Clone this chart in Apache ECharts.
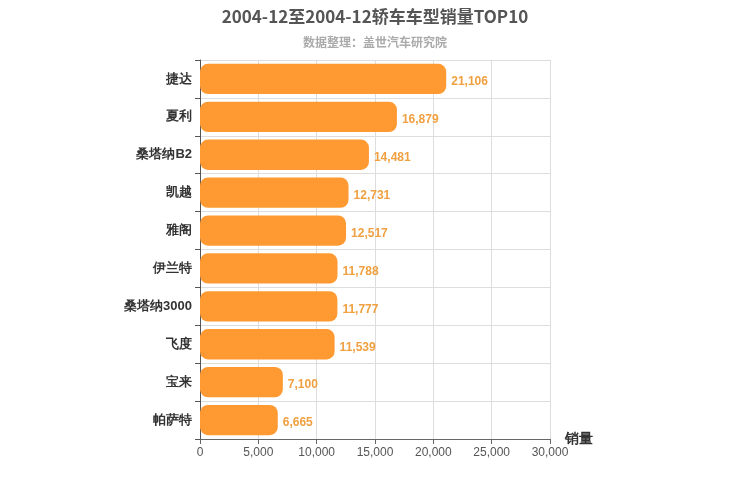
<!DOCTYPE html>
<html><head><meta charset="utf-8">
<script src="https://cdn.jsdelivr.net/npm/echarts@6/dist/echarts.min.js"></script>
<style>html,body{margin:0;padding:0;background:#fff}#c{width:750px;height:500px}</style>
</head><body><div id="c"></div>
<script>
const categories = ['捷达','夏利','桑塔纳B2','凯越','雅阁','伊兰特','桑塔纳3000','飞度','宝来','帕萨特'];
const sales = [21106,16879,14481,12731,12517,11788,11777,11539,7100,6665];
const xTicks = {min:0, max:30000, interval:5000};

const chart = echarts.init(document.getElementById('c'));
chart.setOption({
  backgroundColor:'#fff',
  title:{
    text:'2004-12至2004-12轿车车型销量TOP10',
    subtext:'数据整理：盖世汽车研究院',
    left:'center', top:3, itemGap:11,
    textStyle:{fontSize:17,fontWeight:'bold',color:'#555',fontFamily:'Noto Sans CJK SC'},
    subtextStyle:{fontSize:12,fontWeight:'bold',color:'#aaa',fontFamily:'Noto Sans CJK SC'}
  },
  grid:{left:200,right:200,top:60,bottom:61,containLabel:false},
  xAxis:{
    type:'value', min:xTicks.min, max:xTicks.max, interval:xTicks.interval,
    name:'销量', nameLocation:'end', nameGap:15,
    nameTextStyle:{fontSize:14,fontWeight:'bold',color:'#333',verticalAlign:'middle',lineHeight:16,padding:[0,0,0,0]},
    axisLine:{show:true,lineStyle:{color:'#666'}},
    axisTick:{show:true,lineStyle:{color:'#666'}},
    axisLabel:{color:'#555',fontSize:12},
    splitLine:{show:true,lineStyle:{color:'#ddd'}}
  },
  yAxis:{
    type:'category', data:categories, inverse:true,
    axisLine:{show:true,lineStyle:{color:'#555'}},
    axisTick:{show:true,lineStyle:{color:'#555'}},
    axisLabel:{color:'#333',fontSize:13,fontWeight:'bold',margin:8},
    splitLine:{show:true,lineStyle:{color:'#ddd'}}
  },
  series:[{
    type:'bar', data:sales, barWidth:'80%',
    itemStyle:{color:'#ff9a33',borderRadius:8},
    label:{show:true,position:'right',color:'#f0a040',fontSize:12,fontWeight:'bold',offset:[0,3],
      formatter:p=>p.value.toLocaleString('en-US')}
  }]
});
</script></body></html>
